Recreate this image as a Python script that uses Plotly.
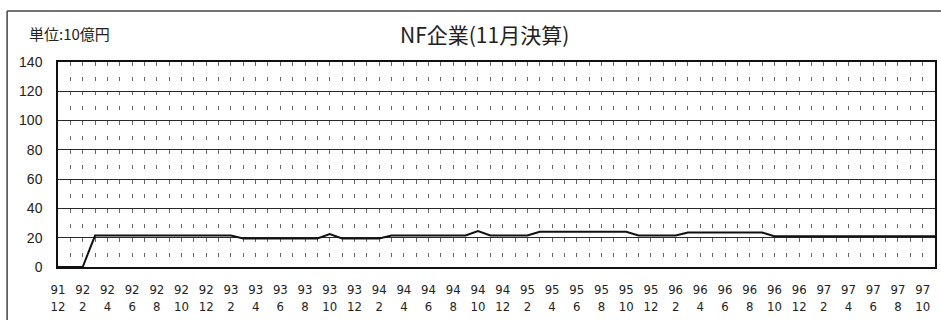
import plotly.graph_objects as go

# Monthly observation periods (YY/M), December 1991 through November 1997
months = [
    "91/12",
    "92/1", "92/2", "92/3", "92/4", "92/5", "92/6", "92/7", "92/8", "92/9", "92/10", "92/11", "92/12",
    "93/1", "93/2", "93/3", "93/4", "93/5", "93/6", "93/7", "93/8", "93/9", "93/10", "93/11", "93/12",
    "94/1", "94/2", "94/3", "94/4", "94/5", "94/6", "94/7", "94/8", "94/9", "94/10", "94/11", "94/12",
    "95/1", "95/2", "95/3", "95/4", "95/5", "95/6", "95/7", "95/8", "95/9", "95/10", "95/11", "95/12",
    "96/1", "96/2", "96/3", "96/4", "96/5", "96/6", "96/7", "96/8", "96/9", "96/10", "96/11", "96/12",
    "97/1", "97/2", "97/3", "97/4", "97/5", "97/6", "97/7", "97/8", "97/9", "97/10", "97/11",
]

# Balance, unit: 10 billion yen
balance = [
    0,
    0, 0, 21.5, 21.5, 21.5, 21.5, 21.5, 21.5, 21.5, 21.5, 21.5, 21.5,
    21.5, 21.5, 19.5, 19.5, 19.5, 19.5, 19.5, 19.5, 19.5, 22.5, 19.5, 19.5,
    19.5, 19.5, 21.5, 21.5, 21.5, 21.5, 21.5, 21.5, 21.5, 24.5, 21.5, 21.5,
    21.5, 21.5, 24, 24, 24, 24, 24, 24, 24, 24, 21.5, 21.5,
    21.5, 21.5, 23.5, 23.5, 23.5, 23.5, 23.5, 23.5, 23.5, 21, 21, 21,
    21, 21, 21, 21, 21, 21, 21, 21, 21, 21, 21,
]

y_ticks = [0, 20, 40, 60, 80, 100, 120, 140]

# Every second month gets a two-line "YY<br>M" label; the rest stay blank
tick_text = [m.replace("/", "<br>") if i % 2 == 0 else "" for i, m in enumerate(months)]

fig = go.Figure()
fig.add_trace(go.Scatter(
    x=months,
    y=balance,
    mode="lines",
    line=dict(color="#111111", width=2),
    cliponaxis=False,
    showlegend=False,
    hoverinfo="skip",
))

label_font = dict(family="Liberation Sans Narrow, DejaVu Sans Condensed, Liberation Sans", size=13, color="#222222")

fig.update_layout(
    width=941,
    height=320,
    margin=dict(l=58, r=4, t=62, b=53),
    paper_bgcolor="white",
    plot_bgcolor="white",
    title=dict(
        text="NF企業(11月決算)",
        x=0.515, xref="container", xanchor="center",
        y=1 - 36 / 320, yref="container", yanchor="middle",
        font=dict(family="Noto Sans CJK JP", size=21, color="#222222"),
    ),
    xaxis=dict(
        type="category",
        categoryorder="array",
        categoryarray=months,
        range=[0, len(months) - 1],
        tickmode="array",
        tickvals=months,
        ticktext=tick_text,
        tickfont=label_font,
        ticks="outside",
        ticklen=10,
        tickcolor="rgba(0,0,0,0)",
        showgrid=True,
        gridcolor="#666666",
        gridwidth=1.2,
        griddash="4px,10.7px",
        showline=True,
        linecolor="#111111",
        linewidth=1.5,
        mirror=True,
        zeroline=False,
        fixedrange=True,
    ),
    yaxis=dict(
        range=[0, 140],
        tickmode="array",
        tickvals=y_ticks,
        tickfont=dict(family="Liberation Sans", size=14, color="#222222"),
        ticks="outside",
        ticklen=11,
        tickcolor="rgba(0,0,0,0)",
        showgrid=True,
        gridcolor="#2a2a2a",
        gridwidth=1.3,
        showline=True,
        linecolor="#111111",
        linewidth=1.5,
        mirror=True,
        zeroline=True,
        zerolinecolor="#111111",
        zerolinewidth=2.5,
        fixedrange=True,
    ),
    annotations=[
        dict(
            text="単位:10億円",
            xref="paper", yref="paper",
            x=(27 - 58) / 879, y=(267 - 33) / 205,
            xanchor="left", yanchor="middle",
            showarrow=False,
            font=dict(family="Noto Sans CJK JP", size=15, color="#222222"),
        ),
    ],
    shapes=[
        # outer frame of the chart area
        dict(type="line", xref="paper", yref="paper",
             x0=(7 - 58) / 879, x1=(7 - 58) / 879,
             y0=(267 - 11) / 205, y1=(267 - 330) / 205,
             line=dict(color="#444444", width=1.5)),
        dict(type="line", xref="paper", yref="paper",
             x0=(7 - 58) / 879, x1=(945 - 58) / 879,
             y0=(267 - 11) / 205, y1=(267 - 11) / 205,
             line=dict(color="#444444", width=1.5)),
    ],
)

fig.write_html("out.html")
